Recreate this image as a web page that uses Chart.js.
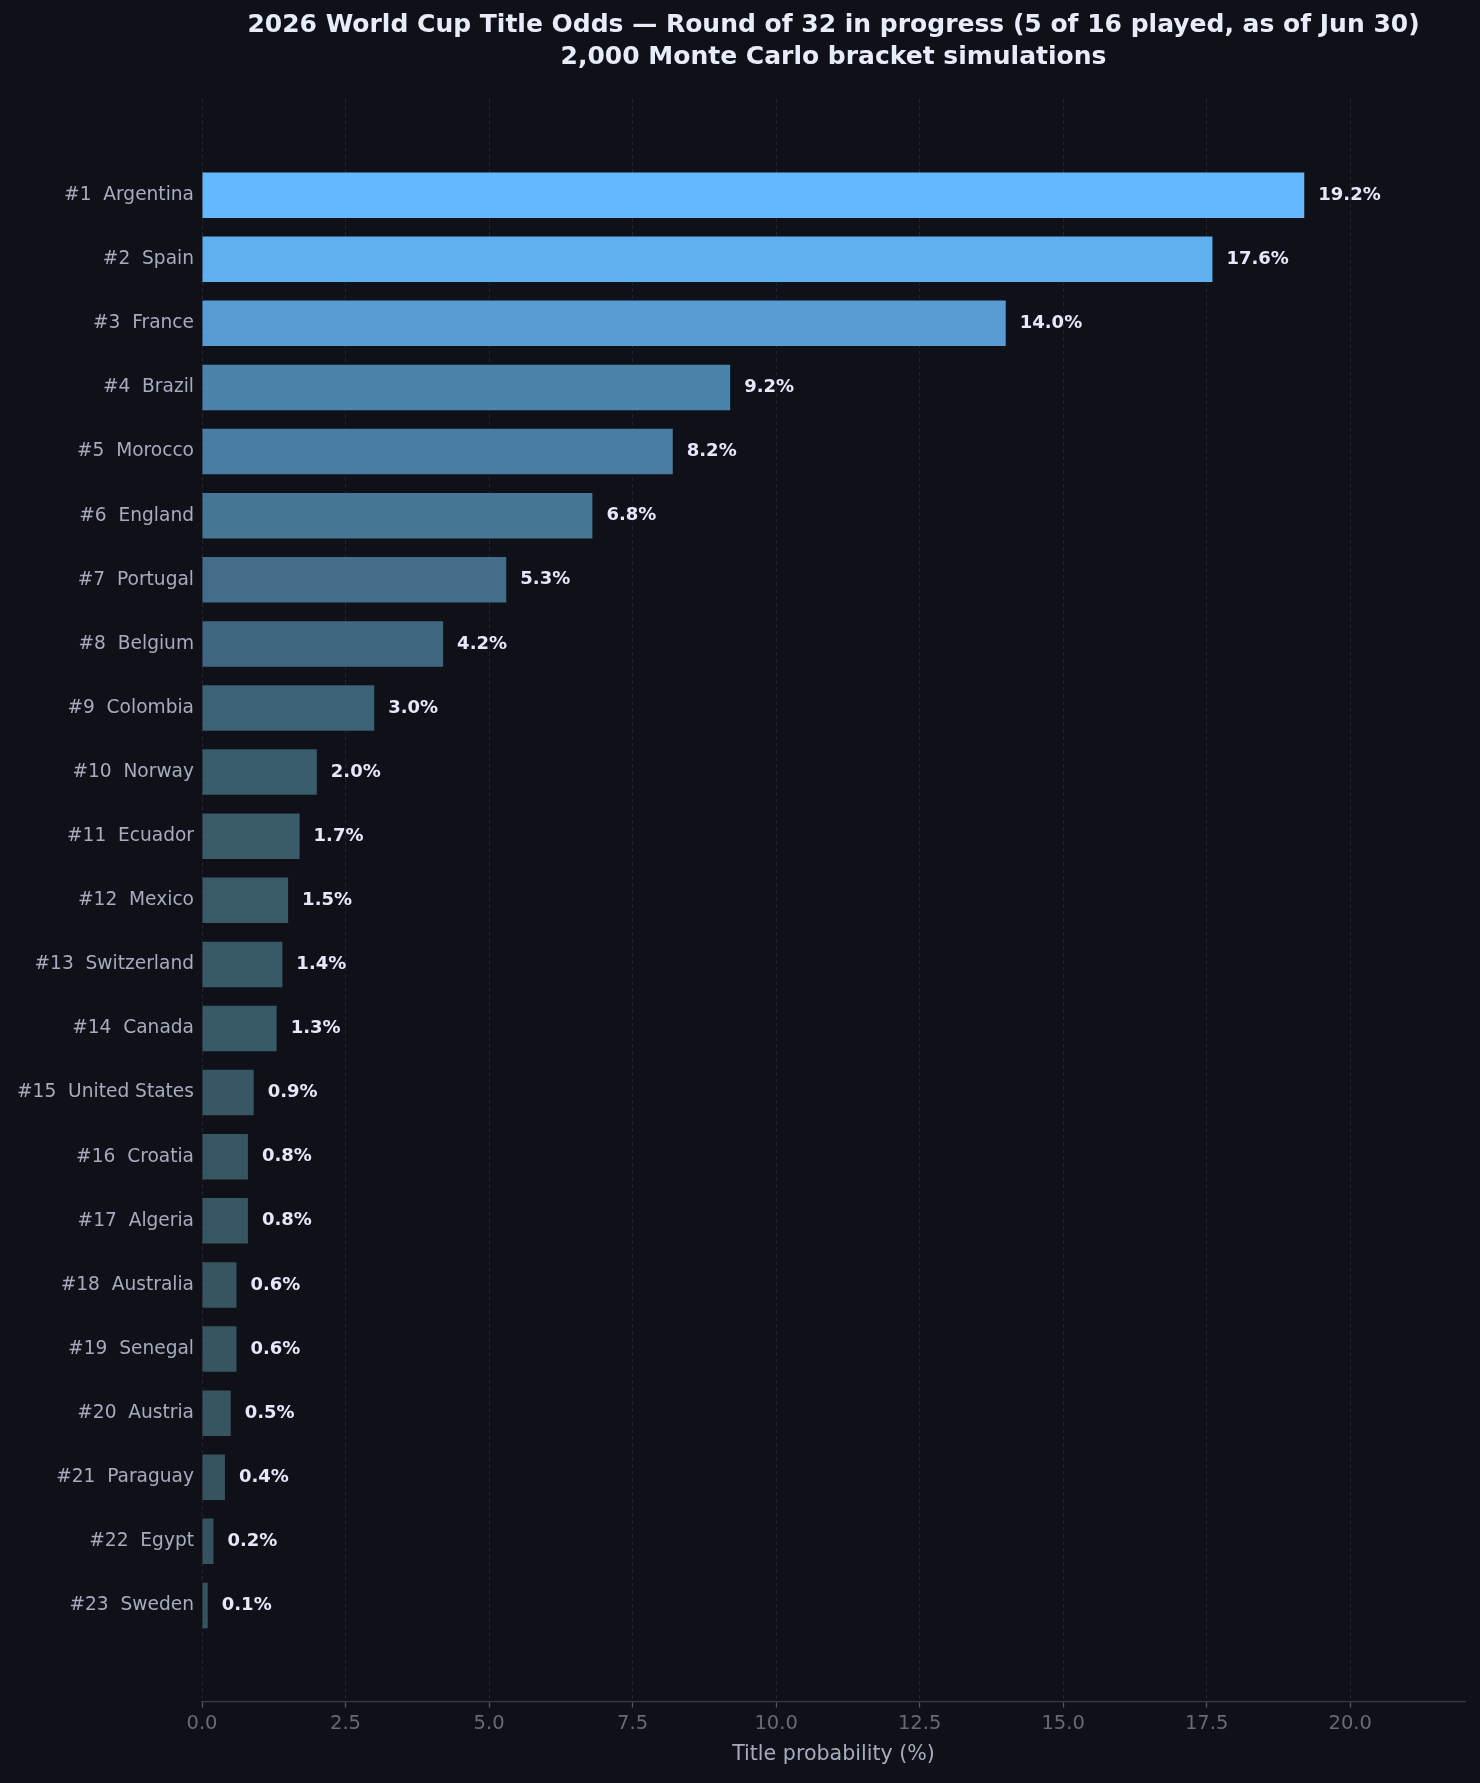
<!DOCTYPE html>
<html>
<head>
<meta charset="utf-8">
<script src="https://cdn.jsdelivr.net/npm/chart.js@4.4.1/dist/chart.umd.min.js"></script>
<style>
  html, body { margin: 0; padding: 0; background: #101118; }
  #wrap { position: relative; width: 1480px; height: 1783px; }
</style>
</head>
<body>
<div id="wrap"><canvas id="oddsChart"></canvas></div>
<script>
// ranking, top to bottom
const teams = [
  "Argentina", "Spain", "France", "Brazil", "Morocco", "England", "Portugal",
  "Belgium", "Colombia", "Norway", "Ecuador", "Mexico", "Switzerland", "Canada",
  "United States", "Croatia", "Algeria", "Australia", "Senegal", "Austria",
  "Paraguay", "Egypt", "Sweden"
];
const odds = [
  19.2, 17.6, 14.0, 9.2, 8.2, 6.8, 5.3, 4.2, 3.0, 2.0, 1.7, 1.5,
  1.4, 1.3, 0.9, 0.8, 0.8, 0.6, 0.6, 0.5, 0.4, 0.2, 0.1
];
const xTicks = [0, 2.5, 5, 7.5, 10, 12.5, 15, 17.5, 20];

const titleLines = [
  "2026 World Cup Title Odds \u2014 Round of 32 in progress (5 of 16 played, as of Jun 30)",
  "2,000 Monte Carlo bracket simulations"
];

const FONT = "'DejaVu Sans', sans-serif";
const labels = teams.map((t, i) => `#${i + 1}  ${t}`);

// bar shade goes from dark teal (small) to bright sky blue (leader)
const lo = [53, 82, 92], hi = [99, 184, 255];
const maxOdd = Math.max(...odds);
const shade = v => {
  const t = v / maxOdd;
  const c = lo.map((a, k) => Math.round(a + (hi[k] - a) * t));
  return `rgb(${c[0]},${c[1]},${c[2]})`;
};

const valueLabels = {
  id: "valueLabels",
  afterDatasetsDraw(chart) {
    const ctx = chart.ctx;
    const meta = chart.getDatasetMeta(0);
    ctx.save();
    ctx.font = `bold 18px ${FONT}`;
    ctx.fillStyle = "#e4e8fa";
    ctx.textAlign = "left";
    ctx.textBaseline = "middle";
    meta.data.forEach((bar, i) => {
      ctx.fillText(odds[i].toFixed(1) + "%", bar.x + 14, bar.y);
    });
    ctx.restore();
  }
};

new Chart(document.getElementById("oddsChart"), {
  type: "bar",
  data: {
    datasets: [{
      data: odds.map((v, i) => ({ x: v, y: i })),
      backgroundColor: odds.map(shade),
      borderWidth: 0,
      categoryPercentage: 1,
      barPercentage: 0.71
    }]
  },
  options: {
    indexAxis: "y",
    responsive: true,
    maintainAspectRatio: false,
    animation: false,
    layout: { padding: { top: 0, right: 15, bottom: 0, left: 0 } },
    scales: {
      x: {
        type: "linear",
        min: 0,
        max: 22.0,
        afterFit: s => { s.height = 81.4; },
        afterBuildTicks: s => { s.ticks = xTicks.map(v => ({ value: v })); },
        ticks: {
          callback: v => Number(v).toFixed(1),
          color: "#676a73",
          font: { family: FONT, size: 19.5 },
          padding: 5,
          maxRotation: 0
        },
        grid: {
          color: "#242238",
          lineWidth: 1,
          drawTicks: true,
          tickLength: 6,
          tickColor: "#55565b",
          tickWidth: 1.3
        },
        border: { display: true, color: "#3b3c41", width: 1.3, dash: [4, 3] },
        title: {
          display: true,
          text: "Title probability (%)",
          color: "#a6abbe",
          font: { family: FONT, size: 20.6 },
          padding: { top: 0, bottom: 15.6 }
        }
      },
      y: {
        type: "linear",
        min: -1.5,
        max: 23.5,
        reverse: true,
        offset: false,
        afterFit: s => { s.width = 202; },
        afterBuildTicks: s => { s.ticks = labels.map((_, i) => ({ value: i })); },
        ticks: {
          callback: v => labels[v] ?? "",
          color: "#a6abbe",
          font: { family: FONT, size: 18.6 },
          padding: 8,
          autoSkip: false
        },
        grid: { display: false, drawTicks: false },
        border: { display: false }
      }
    },
    plugins: {
      legend: { display: false },
      tooltip: { enabled: false },
      title: {
        display: true,
        fullSize: false,
        text: titleLines,
        color: "#e8ebf8",
        font: { family: FONT, size: 25, weight: "bold", lineHeight: 1.28 },
        padding: { top: 9, bottom: 26 }
      }
    }
  },
  plugins: [valueLabels]
});
</script>
</body>
</html>
